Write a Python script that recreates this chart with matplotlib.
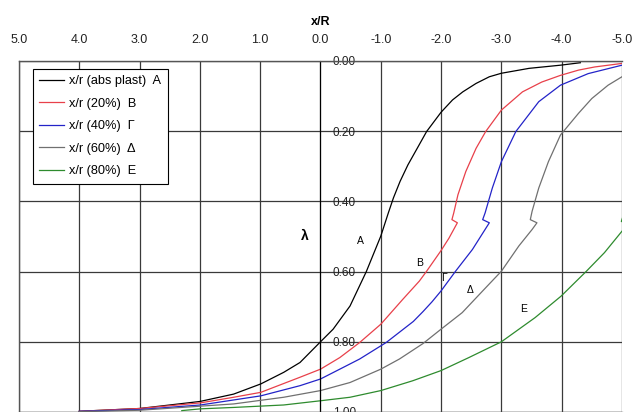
import matplotlib
matplotlib.use("Agg")
import matplotlib.pyplot as plt

plt.rcParams["font.family"] = ["Liberation Sans", "DejaVu Sans"]

# curve data (x/R, lambda)
x_a = [4.0, 3.0, 2.0, 1.44, 0.99, 0.61, 0.34, 0.0, -0.21, -0.49, -0.76, -1.0,
       -1.125, -1.21, -1.32, -1.45, -1.62, -1.76, -2.0, -2.19, -2.36, -2.58,
       -2.80, -3.0, -3.46, -3.98, -4.31]
y_a = [0.998, 0.99, 0.97, 0.949, 0.92, 0.887, 0.859, 0.80, 0.764, 0.698, 0.60,
       0.499, 0.433, 0.39, 0.343, 0.296, 0.244, 0.201, 0.146, 0.111, 0.088,
       0.064, 0.045, 0.035, 0.021, 0.012, 0.005]

x_b = [4.0, 3.0, 1.99, 1.44, 0.99, 0.34, 0.0, -0.32, -0.65, -1.0, -1.36, -1.64,
       -1.76, -2.0, -2.13, -2.27, -2.18, -2.21, -2.28, -2.41, -2.58, -2.74,
       -3.0, -3.35, -3.67, -3.98, -4.28, -4.55, -5.0]
y_b = [0.998, 0.99, 0.974, 0.958, 0.944, 0.901, 0.878, 0.845, 0.802, 0.75,
       0.68, 0.627, 0.599, 0.54, 0.505, 0.461, 0.452, 0.433, 0.381, 0.315,
       0.249, 0.201, 0.14, 0.088, 0.06, 0.041, 0.026, 0.017, 0.007]

x_g = [4.0, 3.0, 1.99, 0.99, 0.34, 0.0, -0.32, -0.65, -1.09, -1.54, -1.70,
       -1.85, -2.0, -2.24, -2.52, -2.80, -2.69, -2.73, -2.85, -3.0, -3.24,
       -3.62, -3.98, -4.44, -5.0]
y_g = [0.998, 0.993, 0.98, 0.954, 0.925, 0.906, 0.878, 0.849, 0.802, 0.742,
       0.714, 0.686, 0.655, 0.599, 0.537, 0.461, 0.452, 0.433, 0.362, 0.287,
       0.201, 0.116, 0.069, 0.036, 0.012]

x_d = [4.0, 3.0, 1.44, 0.61, 0.0, -0.49, -1.0, -1.31, -1.70, -2.0, -2.35,
       -2.74, -3.0, -3.29, -3.51, -3.59, -3.48, -3.51, -3.62, -3.78, -3.98,
       -4.28, -4.50, -4.77, -5.0]
y_d = [0.999, 0.995, 0.977, 0.958, 0.939, 0.916, 0.878, 0.849, 0.805, 0.764,
       0.717, 0.646, 0.599, 0.527, 0.48, 0.461, 0.452, 0.428, 0.362, 0.287,
       0.211, 0.149, 0.107, 0.069, 0.045]

x_e = [2.3, 1.99, 1.44, 0.61, 0.0, -0.49, -1.0, -1.53, -2.0, -2.46, -3.0,
       -3.56, -3.99, -4.41, -4.71, -5.0, -5.1, -4.99, -5.05]
y_e = [0.996, 0.991, 0.987, 0.98, 0.968, 0.958, 0.939, 0.911, 0.882, 0.845,
       0.80, 0.731, 0.67, 0.599, 0.546, 0.485, 0.465, 0.457, 0.425]

series = [
    (x_a, y_a, "#000000", "x/r (abs plast)  Α"),
    (x_b, y_b, "#e8404a", "x/r (20%)  Β"),
    (x_g, y_g, "#2323c8", "x/r (40%)  Γ"),
    (x_d, y_d, "#707070", "x/r (60%)  Δ"),
    (x_e, y_e, "#2e8b2e", "x/r (80%)  Ε"),
]

curve_labels = ["Α", "Β", "Γ", "Δ", "Ε"]
label_x = [-0.66, -1.64, -2.05, -2.49, -3.37]
label_y = [0.513, 0.575, 0.618, 0.652, 0.707]

x_ticks = [5.0, 4.0, 3.0, 2.0, 1.0, 0.0, -1.0, -2.0, -3.0, -4.0, -5.0]
y_ticks = [0.0, 0.2, 0.4, 0.6, 0.8, 1.0]

fig = plt.figure(figsize=(6.34, 4.12), dpi=100)
ax = fig.add_axes([0.030, 0.0, 0.951, 0.852])

for xs, ys, col, lab in series:
    ax.plot(xs, ys, color=col, lw=0.9, label=lab)

ax.set_xlim(5.0, -5.0)
ax.set_ylim(1.0, 0.0)

ax.xaxis.tick_top()
ax.xaxis.set_label_position("top")
ax.set_xticks(x_ticks)
ax.set_xticklabels([f"{v:.1f}" for v in x_ticks], fontsize=9, color="#222222")
ax.set_xlabel("x/R", fontsize=9, fontweight="bold", labelpad=6)
ax.tick_params(axis="x", length=0, pad=11)

ax.yaxis.tick_right()
ax.spines["right"].set_position(("data", 0.0))
ax.spines["right"].set_color("black")
ax.set_yticks(y_ticks)
ax.set_yticklabels([f"{v:.2f}" for v in y_ticks], fontsize=8.5, color="#222222")
ax.tick_params(axis="y", length=0, pad=9)

for s in ["left", "top", "bottom"]:
    ax.spines[s].set_color("#555555")
    ax.spines[s].set_linewidth(1.0)

ax.grid(True, color="#3a3a3a", lw=0.9)
ax.set_axisbelow(True)

ax.text(0.265, 0.50, "λ", fontsize=10, fontweight="bold", ha="center", va="center")
for t, lx, ly in zip(curve_labels, label_x, label_y):
    ax.text(lx, ly, t, fontsize=7.5, ha="center", va="center")

leg = ax.legend(loc="upper left", bbox_to_anchor=(0.023, 0.977), borderaxespad=0,
                fontsize=9.2, handlelength=1.9, handletextpad=0.45, labelspacing=0.82,
                borderpad=0.5, fancybox=False, framealpha=1, edgecolor="black")
leg.get_frame().set_linewidth(0.8)

fig.savefig("out.png", dpi=100)
